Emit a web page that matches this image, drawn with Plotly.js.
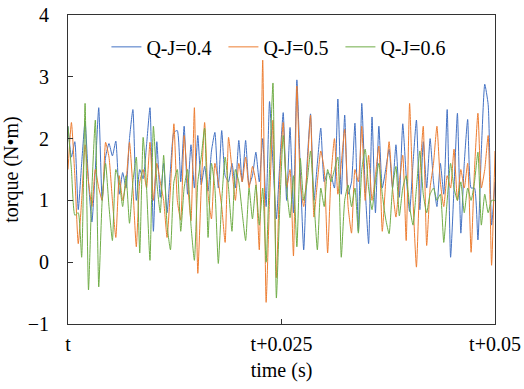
<!DOCTYPE html>
<html>
<head>
<meta charset="utf-8">
<script src="https://cdn.plot.ly/plotly-3.0.1.min.js"></script>
<style>html,body{margin:0;padding:0;background:#fff;}#chart{width:524px;height:389px;}</style>
</head>
<body>
<div id="chart"></div>
<script>
// time step between samples, in ms (window spans t .. t+0.05 s)
const stepMs = 0.4;
const seriesNames = ['Q-J=0.4', 'Q-J=0.5', 'Q-J=0.6'];
const tickVals = [0, 25, 50];
const tickLabels = ['t', 't+0.025', 't+0.05'];

const torqueQJ04 = [
  2.2, 1.7, 1.95, 0.85, 1.6, 2.28, 1.3, 0.65, 1.5, 2.5,
  1.0, 1.7, 1.92, 1.72, 1.96, 1.1, 1.45, 1.2, 2.0, 2.47,
  1.0, 1.5, 1.35, 1.9, 2.5, 0.5, 1.95, 1.05, 1.6, 0.8,
  1.5, 2.1, 2.13, 1.3, 2.2, 1.1, 1.9, 1.2, 2.05, 1.25,
  1.55, 1.15, 1.8, 2.1, 1.2, 2.13, 1.4, 1.3, 1.6, 1.2,
  1.97, 1.3, 1.97, 1.25, 1.4, 1.78, 1.3, 2.0, 0.9, 2.6,
  1.6, 0.7, 1.6, 2.42, 1.0, 2.18, 0.8, 2.95, 1.5, 0.2,
  1.6, 2.4, 1.0, 1.6, 2.17, 1.3, 1.45, 1.4, 1.2, 2.64,
  1.1, 2.38, 1.1, 1.3, 2.25, 0.5, 2.57, 1.2, 0.3, 2.35,
  0.8, 2.2, 1.2, 1.5, 1.83, 1.2, 1.9, 1.05, 2.24, 1.4,
  0.82, 1.6, 2.3, 0.85, 1.95, 1.2, 2.0, 1.3, 0.9, 1.6,
  1.1, 2.47, 0.08, 1.2, 2.41, 0.47, 1.6, 2.31, 1.2, 1.2,
  0.36, 1.8, 2.88, 2.55, 0.6, 1.3
];
const torqueQJ05 = [
  1.5, 2.26, 1.4, 0.3, 1.0, 1.9, 1.3, 0.9, 1.5, 1.2,
  1.0, 1.94, 1.7, 1.0, 0.4, 1.4, 1.0, 1.3, 1.94, 1.2,
  0.25, 1.3, 1.5, 1.2, 1.94, 1.0, 1.6, 1.3, 1.0, 0.4,
  1.2, 2.24, 1.0, 0.68, 2.05, 1.3, 0.67, 2.5, -0.18, 1.2,
  2.26, 1.1, 0.7, 1.6, 1.3, 0.9, 0.32, 2.02, 1.5, 1.0,
  1.6, 1.3, 1.7, 1.2, 1.55, 1.3, 0.2, 3.27, -0.65, 1.0,
  2.3, -0.25, 1.4, 2.26, 1.2, 1.5, 0.1, 2.85, 1.3, 0.9,
  1.5, 2.38, 0.73, 1.3, 1.8, 1.5, 0.15, 1.4, 2.0, 1.1,
  1.6, 2.15, 0.9, 0.47, 1.5, 1.3, 2.2, 1.0, 1.73, 1.0,
  1.4, 1.88, 0.5, 1.3, 1.95, 1.2, 0.73, 1.3, 1.73, 0.35,
  2.57, 1.0, -0.08, 1.4, 2.2, 0.27, 1.2, 1.6, 2.2, 1.3,
  0.9, 1.4, 1.2, 1.83, 1.0, 1.5, 1.2, 1.6, 0.16, 1.5,
  2.41, 1.2, 1.5, 2.05, -0.05, 1.8
];
const torqueQJ06 = [
  2.2, 1.5, 0.76, 0.8, 0.08, 2.57, -0.45, 1.2, 2.3, -0.4,
  1.0, 1.6, 0.9, 0.35, 1.5, 1.3, 0.9, 1.4, 0.63, 1.3,
  1.7, 0.15, 2.02, 1.2, 0.03, 2.2, 1.3, 0.8, 1.73, 0.6,
  0.2, 1.3, 1.5, 0.5, 1.2, 1.5, 0.6, 0.03, 1.3, 1.7,
  2.17, 0.4, 1.6, 1.2, -0.02, 1.0, 1.7, 1.2, 0.5, 1.5,
  1.3, 0.8, 0.35, 1.2, 0.7, 1.25, 0.6, 1.2, 0.0, 1.5,
  2.9, -0.58, 0.9, 2.05, 1.2, 0.72, 1.4, 0.25, 1.68, 1.0,
  1.3, 1.8, 1.0, 0.2, 1.2, 0.9, 1.5, 1.3, 1.5, 1.7,
  0.08, 1.0, 1.25, 0.9, 1.2, 0.47, 1.5, 1.83, 1.2, 0.85,
  1.3, 1.6, 1.1, 0.7, 0.46, 1.2, 1.55, 0.75, 1.2, 1.4,
  0.9, 0.6, 1.2, 1.8, 1.1, 0.8, 1.1, 1.2, 1.0, 1.1,
  0.32, 1.0, 1.6, 1.2, 1.0, 1.3, 0.8, 1.2, 1.0, 1.3,
  1.78, 0.6, 1.1, 0.8, 1.0, 1.0
];

const colors = ['#4472C4', '#ED7D31', '#70AD47'];
const allSeries = [torqueQJ04, torqueQJ05, torqueQJ06];
const timeMs = torqueQJ04.map((_, i) => i * stepMs);

const font = 'Liberation Serif';

const traces = allSeries.map((ys, k) => ({
  x: timeMs,
  y: ys,
  type: 'scatter',
  mode: 'lines',
  name: seriesNames[k],
  line: {color: colors[k], width: 1, shape: 'spline', smoothing: 0.5}
}));

const layout = {
  width: 524,
  height: 389,
  margin: {l: 68, r: 29, t: 15, b: 65},
  paper_bgcolor: '#fff',
  plot_bgcolor: '#fff',
  font: {family: font, size: 20, color: '#000'},
  showlegend: true,
  legend: {
    orientation: 'h',
    x: 0.09, xanchor: 'left',
    y: 0.96, yanchor: 'top',
    bgcolor: 'rgba(0,0,0,0)',
    font: {family: font, size: 20, color: '#000'},
    entrywidth: 72,
    entrywidthmode: 'pixels',
    traceorder: 'normal'
  },
  xaxis: {
    range: [0, 50],
    tickvals: tickVals,
    ticktext: tickLabels,
    ticks: 'inside',
    ticklen: 5,
    tickcolor: '#333',
    showline: true,
    linecolor: '#333',
    linewidth: 1,
    mirror: true,
    showgrid: false,
    zeroline: false,
    ticklabelstandoff: 2,
    tickfont: {family: font, size: 20, color: '#000'},
    title: {text: 'time (s)', font: {family: font, size: 20, color: '#000'}, standoff: 8}
  },
  yaxis: {
    range: [-1, 4],
    dtick: 1,
    tick0: 0,
    ticks: 'inside',
    ticklen: 5,
    tickcolor: '#333',
    showline: true,
    linecolor: '#333',
    linewidth: 1,
    mirror: true,
    showgrid: false,
    zeroline: false,
    ticklabelstandoff: 14,
    tickfont: {family: font, size: 20, color: '#000'},
    title: {text: 'torque (N•m)', font: {family: font, size: 20, color: '#000'}, standoff: 8}
  }
};

Plotly.newPlot('chart', traces, layout, {displayModeBar: false, staticPlot: true});
</script>
</body>
</html>
